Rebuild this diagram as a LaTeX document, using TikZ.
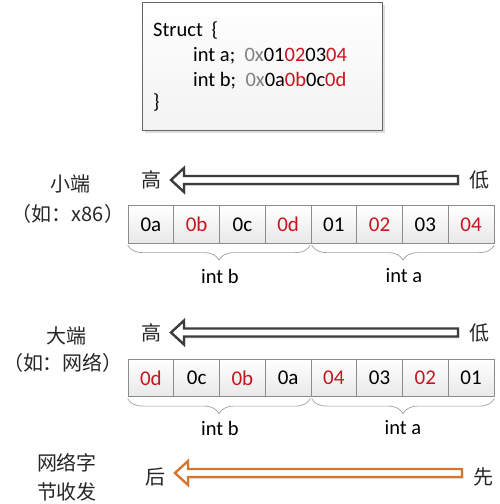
\documentclass[tikz,border=0pt]{standalone}
\usepackage{fontspec}
\setmainfont{Carlito}
\newfontfamily\cjk{Noto Sans CJK SC}
\usetikzlibrary{decorations.pathreplacing,shadows}
\definecolor{numred}{HTML}{C8141E}
\definecolor{hexgray}{HTML}{808080}
\definecolor{cellline}{HTML}{8C8C8C}
\definecolor{arrowgray}{HTML}{3C3C3C}
\definecolor{arroworange}{HTML}{D27832}
\tikzset{
  cell/.style={draw=cellline, line width=0.7pt, top color=white, bottom color=gray!18,
    minimum width=45.75pt, minimum height=37.5pt, inner sep=0pt, font=\fontsize{21}{25}\selectfont},
  cjklabel/.style={font=\cjk\fontsize{20}{23}\selectfont, text=black!85, inner sep=0pt},
  codeline/.style={anchor=base west, inner sep=0pt, font=\fontsize{20.5}{24}\selectfont},
  intlabel/.style={inner sep=0pt, font=\fontsize{20.5}{24}\selectfont},
  bracestyle/.style={draw=gray!75, line width=0.7pt, decorate, decoration={brace, mirror, amplitude=15pt}},
  hollowgray/.style={draw=arrowgray, line width=2.4pt, fill=white, line join=miter,
    drop shadow={shadow xshift=1.5pt, shadow yshift=-2pt, fill=gray!40, opacity=0.5}},
  holloworange/.style={draw=arroworange, line width=2.4pt, fill=white, line join=miter,
    drop shadow={shadow xshift=1.5pt, shadow yshift=-2pt, fill=gray!40, opacity=0.5}},
  structbox/.style={draw=gray!80!black, line width=1pt, top color=white, bottom color=gray!10,
    minimum width=240pt, minimum height=128pt, inner sep=0pt,
    drop shadow={shadow xshift=2.5pt, shadow yshift=-2.5pt, fill=gray!45, opacity=0.6}}
}
\begin{document}
\begin{tikzpicture}[x=1pt,y=-1pt]
\useasboundingbox (0,0) rectangle (500,504);
% struct box
\node[structbox] (sbox) at (262,66) {};
\node[codeline] (l1) at (153,36) {Struct\hspace{4pt} \{};
\node[codeline] (l2) at (193,61) {int a;\ \ \textcolor{hexgray}{0x}01\textcolor{numred}{02}03\textcolor{numred}{04}};
\node[codeline] (l3) at (193,86) {int b;\ \ \textcolor{hexgray}{0x}0a\textcolor{numred}{0b}0c\textcolor{numred}{0d}};
\node[codeline] (l4) at (153,108) {\}};

% row 1: little endian
\node[cjklabel] (le) at (70,184) {小端};
\node[cjklabel] (leex) at (68,214) {（如：x86）};
\node[cjklabel] (hi1) at (151,180) {高};
\node[cjklabel] (lo1) at (479,180) {低};
\coordinate (tip1) at (171,180);
\draw[hollowgray] (tip1) -- ++(13,-12) -- ++(0,8) -- ++(274,0) -- ++(0,8) -- ++(-274,0) -- ++(0,8) -- cycle;
\foreach \t/\c [count=\i] in {0a/black,0b/numred,0c/black,0d/numred,01/black,02/numred,03/black,04/numred}
  \node[cell, text=\c] (a\i) at ({128+45.75*(\i-0.5)},224.5) {\t};
\draw[bracestyle] ([yshift=-1.5pt]a1.south west) -- ([xshift=-1pt,yshift=-1.5pt]a4.south east);
\draw[bracestyle] ([xshift=1pt,yshift=-1.5pt]a5.south west) -- ([yshift=-1.5pt]a8.south east);
\node[intlabel] (ib1) at (220,276) {int b};
\node[intlabel] (ia1) at (404,276) {int a};

% row 2: big endian
\node[cjklabel] (be) at (66,336) {大端};
\node[cjklabel] (beex) at (63,363) {（如：网络）};
\node[cjklabel] (hi2) at (151,333) {高};
\node[cjklabel] (lo2) at (479,333) {低};
\coordinate (tip2) at (171,332.5);
\draw[hollowgray] (tip2) -- ++(13,-12) -- ++(0,8) -- ++(274,0) -- ++(0,8) -- ++(-274,0) -- ++(0,8) -- cycle;
\foreach \t/\c [count=\i] in {0d/numred,0c/black,0b/numred,0a/black,04/numred,03/black,02/numred,01/black}
  \node[cell, text=\c] (b\i) at ({128+45.75*(\i-0.5)},378) {\t};
\draw[bracestyle] ([yshift=-1.5pt]b1.south west) -- ([xshift=-1pt,yshift=-1.5pt]b4.south east);
\draw[bracestyle] ([xshift=1pt,yshift=-1.5pt]b5.south west) -- ([yshift=-1.5pt]b8.south east);
\node[intlabel] (ib2) at (220,428) {int b};
\node[intlabel] (ia2) at (403,428) {int a};

% row 3: network byte order
\node[cjklabel] (nw1) at (67,463) {网络字};
\node[cjklabel] (nw2) at (67,492) {节收发};
\node[cjklabel] (late) at (155,477) {后};
\node[cjklabel] (early) at (483,477) {先};
\coordinate (tip3) at (175,473);
\draw[holloworange] (tip3) -- ++(13,-12) -- ++(0,8) -- ++(274,0) -- ++(0,8) -- ++(-274,0) -- ++(0,8) -- cycle;
\end{tikzpicture}
\end{document}
